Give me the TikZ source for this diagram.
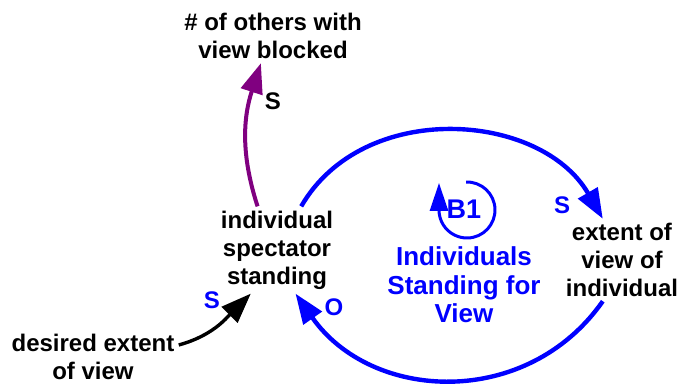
\documentclass[tikz,border=0pt]{standalone}
\usepackage{fontspec}
\setmainfont{Liberation Sans}
\usetikzlibrary{arrows.meta}
\tikzset{>={Triangle[length=15pt,width=11pt]}}
\definecolor{linkpurple}{RGB}{128,0,128}

\begin{document}
\begin{tikzpicture}
    [
        x=0.5pt, y=0.5pt,
        var_node/.style={align=center, inner sep=2pt, font=\bfseries\fontsize{12}{14}\selectfont},
        loop_node/.style={align=center, text=blue, font=\bfseries\fontsize{13}{14.25}\selectfont},
        pol_node/.style={text=blue, inner sep=0pt, font=\bfseries\fontsize{12}{14}\selectfont},
        loop_link/.style={->, draw=blue, line width=2.2pt},
    ]
  \useasboundingbox (0,0) rectangle (681,386);

  \node[var_node] (others) at (273,350) {\# of others with\\view blocked};
  \node[var_node] (spectator) at (277,136) {individual\\spectator\\standing};
  \node[var_node] (extent) at (622,126) {extent of\\view of\\individual};
  \node[var_node] (desired) at (93,29) {desired extent\\of view};

  \node[loop_node] (title) at (464,101) {Individuals\\Standing for\\View};
  \node[loop_node, font=\bfseries\fontsize{13.5}{15}\selectfont] (b_one) at (464,177) {B1};

  \node[pol_node, text=black] (s_others) at (273,285) {S};
  \node[pol_node] (s_extent) at (562,181) {S};
  \node[pol_node] (o_spectator) at (334,79) {O};
  \node[pol_node] (s_desired) at (212,86) {S};

  \draw[->, linkpurple, line width=2pt] (spectator.114) to[out=108, in=-108] (others.-114);
  \draw[loop_link] (spectator.61) to[out=60, in=120, looseness=1.05] (extent.115);
  \draw[loop_link] (extent.-115) to[out=-125, in=-55, looseness=1.1] (spectator.-67);
  \draw[->, line width=1.7pt] (desired.8) to[out=15, in=-135] (spectator.-121);

  \draw[->, blue, line width=1.5pt, >={Triangle[length=14pt,width=9pt]}]
    ([shift={(3,-1)}]b_one.center) ++(92:28) arc[start angle=92, end angle=-180, radius=28] -- ++(0,27);
\end{tikzpicture}
\end{document}
